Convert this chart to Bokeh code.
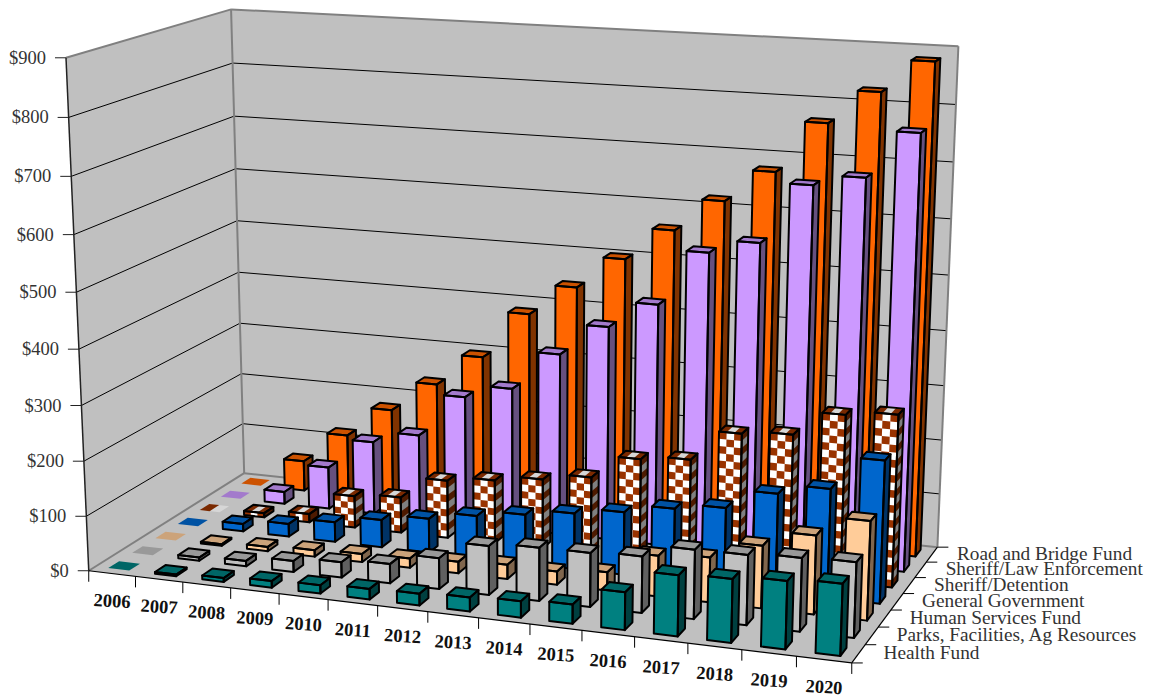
import numpy as np
from bokeh.core.properties import value
from bokeh.embed import file_html
from bokeh.models import ColumnDataSource, Range1d
from bokeh.plotting import figure
from bokeh.resources import INLINE

years = ["2006", "2007", "2008", "2009", "2010", "2011", "2012", "2013",
         "2014", "2015", "2016", "2017", "2018", "2019", "2020"]
fund_names = ["Health Fund", "Parks, Facilities, Ag Resources", "Human Services Fund",
              "General Government", "Sheriff/Detention", "Sheriff/Law Enforcement",
              "Road and Bridge Fund"]
dollar_ticks = [0, 100, 200, 300, 400, 500, 600, 700, 800, 900]

health_fund = [0, 3, 7, 12, 15, 19, 21, 25, 29, 34, 66, 106, 110, 117, 123]
parks_fund = [0, 6, 10, 20, 28, 35, 56, 88, 95, 96, 100, 122, 123, 128, 131]
human_services = [0, 3, 8, 12, 15, 17, 21, 26, 24, 33, 73, 80, 111, 139, 174]
general_government = [0, 14, 24, 37, 51, 63, 78, 90, 102, 114, 130, 141, 176, 194, 253]
sheriff_detention = [0, 8, 16, 60, 67, 108, 118, 129, 142, 185, 193, 249, 256, 300, 309]
sheriff_law = [0, 23, 80, 138, 160, 241, 265, 337, 395, 443, 543, 567, 674, 693, 775]
road_bridge = [0, 58, 118, 176, 234, 294, 383, 440, 499, 558, 617, 675, 766, 825, 882]

rows = [health_fund, parks_fund, human_services, general_government,
        sheriff_detention, sheriff_law, road_bridge]

# front, side and top shades for each fund
shades = [
    ("#008080", "#004040", "#006666"),
    ("#C0C0C0", "#606060", "#999999"),
    ("#FFCC99", "#80664D", "#CCA37A"),
    ("#0066CC", "#003366", "#0052A3"),
    ("#FFFFFF", "#808080", "#D6D6D6"),
    ("#CC99FF", "#66507F", "#A37ACC"),
    ("#FF6600", "#803300", "#CC5200"),
]
CHECK_ROW = 4
CHECK_SHADES = ("#993300", "#4D1A00", "#7A2900")

N_X, N_Z = len(years), len(fund_names)
Y_MAX = 900.0
BAR_W, BAR_D = 0.45, 0.45

# Camera: a perspective matrix fitted to where the box corners fall on the page.
box = [((0, 0, 0), (88, 570)), ((1, 0, 0), (851, 663)), ((0, 1, 0), (244, 473)),
       ((1, 1, 0), (937, 546)), ((0, 0, 1), (66, 57)), ((0, 1, 1), (230, 9)),
       ((1, 1, 1), (958, 46))]


def fit_camera(pairs):
    eq = []
    for (a, b, c), (u, v) in pairs:
        u, v = u / 1000.0, v / 1000.0
        eq.append([a, b, c, 1, 0, 0, 0, 0, -u * a, -u * b, -u * c, -u])
        eq.append([0, 0, 0, 0, a, b, c, 1, -v * a, -v * b, -v * c, -v])
    return np.linalg.svd(np.array(eq, float))[2][-1].reshape(3, 4)


CAM = fit_camera(box)


def proj(gx, gz, val):
    """Category units, fund units and dollars to page position."""
    h = CAM @ np.array([gx / N_X, gz / N_Z, val / Y_MAX, 1.0])
    return h[0] / h[2] * 1000.0, h[1] / h[2] * 1000.0


def poly(points):
    pts = [proj(*q) for q in points]
    return [q[0] for q in pts], [q[1] for q in pts]


xs, ys, fills, fill_a, line_a = [], [], [], [], []


def add(points, fill, outlined=True, filled=True):
    a, b = poly(points)
    xs.append(a)
    ys.append(b)
    fills.append(fill)
    fill_a.append(1.0 if filled else 0.0)
    line_a.append(1.0 if outlined else 0.0)


def checker(p00, p10, p01, p11, n_u, n_v, colour):
    """Alternate cells across a face given by its four corners."""
    def at(u, v):
        return tuple((1 - u) * (1 - v) * p00[k] + u * (1 - v) * p10[k]
                     + (1 - u) * v * p01[k] + u * v * p11[k] for k in range(3))
    for i in range(n_u):
        for j in range(n_v):
            if (i + j) % 2 == 0:
                u0, u1, v0, v1 = i / n_u, (i + 1) / n_u, j / n_v, (j + 1) / n_v
                add([at(u0, v0), at(u1, v0), at(u1, v1), at(u0, v1)], colour, outlined=False)


def add_bar(ix, iz, val):
    x0, x1 = ix + 0.5 - BAR_W / 2, ix + 0.5 + BAR_W / 2
    z0, z1 = iz + 0.5 - BAR_D / 2, iz + 0.5 + BAR_D / 2
    front, side, top = shades[iz]
    edged = val > 0
    top_face = [(x0, z0, val), (x1, z0, val), (x1, z1, val), (x0, z1, val)]
    front_face = [(x0, z0, 0), (x1, z0, 0), (x1, z0, val), (x0, z0, val)]
    side_face = [(x1, z0, 0), (x1, z1, 0), (x1, z1, val), (x1, z0, val)]
    add(top_face, top, outlined=False)
    if edged:
        add(front_face, front, outlined=False)
        add(side_face, side, outlined=False)
    if iz == CHECK_ROW:
        if edged:
            checker(top_face[3], top_face[2], top_face[0], top_face[1], 3, 1, CHECK_SHADES[2])
            n_v = max(1, int(round(val * 0.58 / 7.7)))
            checker(front_face[3], front_face[2], front_face[0], front_face[1], 3, n_v, CHECK_SHADES[0])
            checker(side_face[3], side_face[2], side_face[0], side_face[1], 1, n_v, CHECK_SHADES[1])
        else:
            checker(top_face[3], top_face[2], top_face[0], top_face[1], 2, 1, CHECK_SHADES[2])
    if edged:
        add(top_face, top, filled=False)
        add(front_face, front, filled=False)
        add(side_face, side, filled=False)


p = figure(width=1159, height=698, output_backend="svg", toolbar_location=None,
           x_range=Range1d(0, 1159), y_range=Range1d(698, 0), min_border=0,
           background_fill_color="white", outline_line_color=None)
p.axis.visible = False
p.grid.visible = False

# walls and floor
wall_grey, edge_grey = "#C0C0C0", "#808080"
for face in ([(0, 0, 0), (N_X, 0, 0), (N_X, N_Z, 0), (0, N_Z, 0)],
             [(0, 0, 0), (0, N_Z, 0), (0, N_Z, Y_MAX), (0, 0, Y_MAX)],
             [(0, N_Z, 0), (N_X, N_Z, 0), (N_X, N_Z, Y_MAX), (0, N_Z, Y_MAX)]):
    a, b = poly(face)
    p.patch(a, b, fill_color=wall_grey, line_color=None)


def segment(q0, q1, colour, width):
    a, b = poly([q0, q1])
    p.line(a, b, line_color=colour, line_width=width)


for v in dollar_ticks[1:-1]:
    segment((0, 0, v), (0, N_Z, v), "black", 1)
    segment((0, N_Z, v), (N_X, N_Z, v), "black", 1)

for q0, q1 in (((0, 0, 0), (0, N_Z, 0)), ((0, N_Z, 0), (N_X, N_Z, 0)),
               ((0, N_Z, 0), (0, N_Z, Y_MAX)), ((0, 0, Y_MAX), (0, N_Z, Y_MAX)),
               ((0, N_Z, Y_MAX), (N_X, N_Z, Y_MAX)), ((N_X, N_Z, 0), (N_X, N_Z, Y_MAX))):
    segment(q0, q1, edge_grey, 2)

segment((0, 0, 0), (0, 0, Y_MAX), "#222222", 1.5)
segment((0, 0, 0), (N_X, 0, 0), "black", 1.2)
segment((N_X, 0, 0), (N_X, N_Z, 0), "black", 1.2)

# tick marks
for v in dollar_ticks:
    a, b = proj(0, 0, v)
    p.line([a - 11, a], [b, b], line_color="#222222", line_width=1)
for i in range(N_X + 1):
    a, b = proj(i, 0, 0)
    p.line([a, a], [b, b + 11], line_color="black", line_width=1)
for i in range(N_Z + 1):
    a, b = proj(N_X, i, 0)
    p.line([a, a + 11], [b, b], line_color="black", line_width=1)

# bars, furthest row first and left to right along each row
for iz in reversed(range(N_Z)):
    for ix in range(N_X):
        add_bar(ix, iz, rows[iz][ix])

p.patches(xs="xs", ys="ys", fill_color="fills", fill_alpha="fill_a", line_color="black",
          line_alpha="line_a", line_width=2, line_join="round",
          source=ColumnDataSource(dict(xs=xs, ys=ys, fills=fills, fill_a=fill_a, line_a=line_a)))

# labels
FONT = value("Liberation Serif")
lx = [proj(0, 0, v)[0] - 20 for v in dollar_ticks]
ly = [proj(0, 0, v)[1] for v in dollar_ticks]
p.text(lx, ly, text=[f"${v}" for v in dollar_ticks], text_font=FONT, text_font_size="18.5px",
       text_align="right", text_baseline="middle", text_color="#333333")

cx = [proj(i + 0.5, 0, 0)[0] for i in range(N_X)]
cy = [proj(i + 0.5, 0, 0)[1] + 27 for i in range(N_X)]
p.text(cx, cy, text=years, text_font=FONT, text_font_size="18.5px", text_font_style="bold",
       text_align="center", text_baseline="middle", text_color="#111111", angle=-0.06)

sx = [proj(N_X, i + 0.5, 0)[0] + 25 for i in range(N_Z)]
sy = [proj(N_X, i + 0.5, 0)[1] - 1 for i in range(N_Z)]
p.text(sx, sy, text=fund_names, text_font=FONT, text_font_size="19.3px",
       text_align="left", text_baseline="middle", text_color="#333333")

open("out.html", "w").write(file_html(p, INLINE))
